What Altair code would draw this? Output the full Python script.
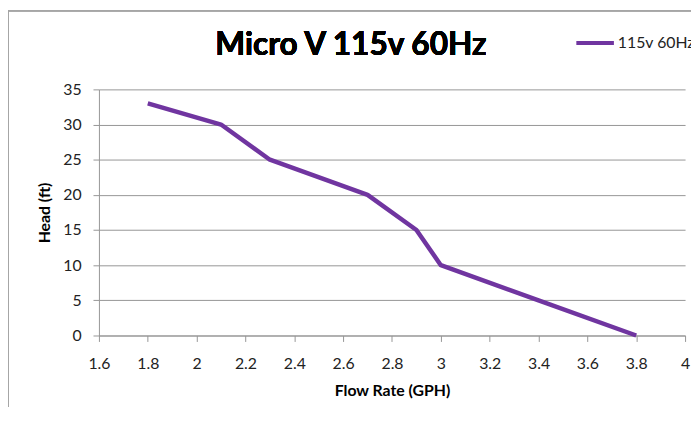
import altair as alt
import pandas as pd

# Data
flow = [1.8, 2.1, 2.3, 2.7, 2.9, 3.0, 3.4, 3.8]
head = [33, 30, 25, 20, 15, 10, 5, 0]
series = ["115v 60Hz"] * len(flow)
title_text = "Micro V 115v 60Hz"

x_ticks = [1.6, 1.8, 2.0, 2.2, 2.4, 2.6, 2.8, 3.0, 3.2, 3.4, 3.6, 3.8, 4.0]
y_ticks = [0, 5, 10, 15, 20, 25, 30, 35]

df = pd.DataFrame({"flow": flow, "head": head, "series": series})

FONT = "Lato"
PURPLE = "#7035A0"
GRID = "#969696"
FRAME = "#a6a6a6"

W, H = 593, 249

line = alt.Chart(df).mark_line(strokeWidth=4.5, strokeJoin="round").encode(
    x=alt.X(
        "flow:Q",
        scale=alt.Scale(domain=[1.6, 4.0], nice=False, zero=False),
        axis=alt.Axis(
            values=x_ticks, format=".2~f", grid=False, labelPadding=14,
            labelFlush=False, labelOverlap=False,
            title="Flow Rate (GPH)", titleY=56, titleBaseline="middle",
            titleX=W / 2, titleAlign="center",
        ),
    ),
    y=alt.Y(
        "head:Q",
        scale=alt.Scale(domain=[0, 35], nice=False),
        axis=alt.Axis(
            values=y_ticks, grid=True, title="Head (ft)",
            titleX=-55, titleY=H / 2, titleBaseline="middle", titleAlign="center",
            labelPadding=12, labelFlush=False,
        ),
    ),
    color=alt.Color(
        "series:N",
        scale=alt.Scale(range=[PURPLE]),
        legend=alt.Legend(
            title=None, orient="none", legendX=481, legendY=-68,
            symbolType="stroke", symbolSize=1444, symbolStrokeWidth=4,
            labelFontSize=16, labelFont=FONT, labelColor="#222",
            labelOffset=2, padding=0,
        ),
    ),
)

title = alt.Chart(df).mark_text(
    font=FONT, fontSize=32, fontWeight="bold", color="#000",
    align="center", baseline="alphabetic",
).encode(x=alt.value(W / 2 - 41.5), y=alt.value(-35), text=alt.value(title_text))

frame_left = alt.Chart(df).mark_rule(color=FRAME, strokeWidth=1).encode(
    x=alt.value(-91.5), y=alt.value(-79.5), y2=alt.value(H + 80)
)
frame_top = alt.Chart(df).mark_rule(color=FRAME, strokeWidth=1).encode(
    x=alt.value(-91.5), x2=alt.value(W + 10), y=alt.value(-79.5)
)

chart = alt.layer(frame_left, frame_top, line, title).properties(
    width=W,
    height=H,
    padding={"left": 92, "top": 80, "right": 6, "bottom": 70},
    autosize=alt.AutoSizeParams(type="none"),
).configure_view(stroke=None).configure_axis(
    labelFont=FONT, labelFontSize=16, labelColor="#222",
    titleFont=FONT, titleFontSize=16, titleFontWeight="bold", titleColor="#000",
    domainColor=GRID, tickColor=GRID, gridColor=GRID, tickSize=6,
    labelPadding=4,
)

chart.save("out.html", embed_options={"renderer": "svg", "actions": False})
